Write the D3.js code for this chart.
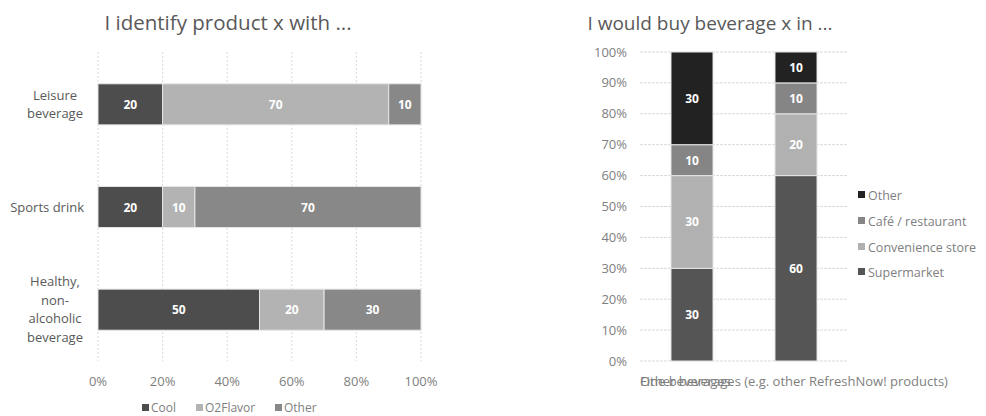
<!DOCTYPE html>
<html><head><meta charset="utf-8">
<script src="https://cdn.jsdelivr.net/npm/d3@7"></script>
<style>body{margin:0;background:#fff}svg{display:block;font-family:"Open Sans","Liberation Sans",sans-serif}</style>
</head><body><svg id="c" width="986" height="416"></svg>
<script>
// Left chart data
const leftCategories = ["Leisure\nbeverage", "Sports drink", "Healthy,\nnon-\nalcoholic\nbeverage"];
const leftSeries = ["Cool", "O2Flavor", "Other"];
const leftCool = [20, 20, 50];
const leftO2Flavor = [70, 10, 20];
const leftOther = [10, 70, 30];
const leftTicks = [0, 20, 40, 60, 80, 100];
const leftColors = ["#4d4d4d", "#b3b3b3", "#888888"];

// Right chart data
const rightCategories = ["Fine beverages", "Other beverages (e.g. other RefreshNow! products)"];
const rightSeries = ["Supermarket", "Convenience store", "Café / restaurant", "Other"];
const rightSupermarket = [30, 60];
const rightConvenience = [30, 20];
const rightCafe = [10, 10];
const rightOther = [30, 10];
const rightTicks = [0, 10, 20, 30, 40, 50, 60, 70, 80, 90, 100];
const rightColors = ["#555555", "#b1b1b1", "#858585", "#222222"];

const svg = d3.select("#c");
const textCol = "#595959", tickCol = "#808080", gridCol = "#d9d9d9";

// ---------- Left chart ----------
const L = svg.append("g");
L.append("text").attr("x", 228).attr("y", 30).attr("text-anchor", "middle")
  .attr("font-size", 20.5).attr("fill", textCol).text("I identify product x with ...");
const x = d3.scaleLinear().domain([0, 100]).range([98, 421]);
const yb = d3.scaleBand().domain(leftCategories).range([53, 361]).paddingInner(0.6).paddingOuter(0.3);

L.append("g").selectAll("line").data(leftTicks).join("line")
  .attr("x1", d => x(d)).attr("x2", d => x(d)).attr("y1", 52).attr("y2", 361)
  .attr("stroke", gridCol).attr("stroke-dasharray", "2,2");

const leftVals = [leftCool, leftO2Flavor, leftOther];
const leftRows = leftCategories.map((c, i) => {
  const o = {cat: c};
  leftSeries.forEach((s, j) => o[s] = leftVals[j][i]);
  return o;
});
const lStack = d3.stack().keys(leftSeries)(leftRows);
lStack.forEach((layer, j) => {
  const g = L.append("g");
  g.selectAll("rect").data(layer).join("rect")
    .attr("x", d => x(d[0])).attr("width", d => x(d[1]) - x(d[0]))
    .attr("y", d => yb(d.data.cat)).attr("height", yb.bandwidth())
    .attr("fill", leftColors[j]).attr("stroke", "#e6e6e6").attr("stroke-width", 1);
  g.selectAll("text").data(layer).join("text")
    .attr("x", d => (x(d[0]) + x(d[1])) / 2).attr("y", d => yb(d.data.cat) + yb.bandwidth() / 2 + 4.5)
    .attr("text-anchor", "middle").attr("font-size", 12).attr("font-weight", "bold").attr("fill", "#fff")
    .text(d => d[1] - d[0]);
});

// category labels
leftCategories.forEach(c => {
  const lines = c.split("\n");
  const cy = yb(c) + yb.bandwidth() / 2;
  const lh = 18.5;
  const t = L.append("text").attr("font-size", 13).attr("fill", textCol)
    .attr("text-anchor", lines.length === 1 ? "end" : "middle");
  lines.forEach((ln, k) => {
    t.append("tspan").attr("x", lines.length === 1 ? 84 : 55)
      .attr("y", cy + 4.5 + (k - (lines.length - 1) / 2) * lh).text(ln);
  });
});

L.append("g").selectAll("text").data(leftTicks).join("text")
  .attr("x", d => x(d)).attr("y", 386).attr("text-anchor", "middle")
  .attr("font-size", 13).attr("fill", tickCol).text(d => d + "%");

// legend
const leftLegX = [142, 196, 275];
leftSeries.forEach((s, j) => {
  L.append("rect").attr("x", leftLegX[j]).attr("y", 404).attr("width", 7).attr("height", 7).attr("fill", leftColors[j]);
  L.append("text").attr("x", leftLegX[j] + 9).attr("y", 411.5).attr("font-size", 12).attr("fill", tickCol).text(s);
});

// ---------- Right chart ----------
const R = svg.append("g");
R.append("text").attr("x", 710).attr("y", 30).attr("text-anchor", "middle")
  .attr("font-size", 19).attr("fill", textCol).text("I would buy beverage x in ...");
const y = d3.scaleLinear().domain([0, 100]).range([361, 52]);
const xb = d3.scaleBand().domain(rightCategories).range([640, 848]).paddingInner(0.596).paddingOuter(0.298);

R.append("g").selectAll("line").data(rightTicks).join("line")
  .attr("x1", 640).attr("x2", 848).attr("y1", d => y(d)).attr("y2", d => y(d))
  .attr("stroke", gridCol).attr("stroke-dasharray", "3,1");
R.append("g").selectAll("text").data(rightTicks).join("text")
  .attr("x", 627).attr("y", d => y(d) + 4.5).attr("text-anchor", "end")
  .attr("font-size", 13).attr("fill", tickCol).text(d => d + "%");

const rightVals = [rightSupermarket, rightConvenience, rightCafe, rightOther];
const rightRows = rightCategories.map((c, i) => {
  const o = {cat: c};
  rightSeries.forEach((s, j) => o[s] = rightVals[j][i]);
  return o;
});
const rStack = d3.stack().keys(rightSeries)(rightRows);
rStack.forEach((layer, j) => {
  const g = R.append("g");
  g.selectAll("rect").data(layer).join("rect")
    .attr("x", d => xb(d.data.cat)).attr("width", xb.bandwidth())
    .attr("y", d => y(d[1])).attr("height", d => y(d[0]) - y(d[1]))
    .attr("fill", rightColors[j]).attr("stroke", "#e6e6e6").attr("stroke-width", 1);
  g.selectAll("text").data(layer).join("text")
    .attr("x", d => xb(d.data.cat) + xb.bandwidth() / 2).attr("y", d => (y(d[0]) + y(d[1])) / 2 + 4.5)
    .attr("text-anchor", "middle").attr("font-size", 12).attr("font-weight", "bold").attr("fill", "#fff")
    .text(d => d[1] - d[0]);
});

// overlapping category labels (as in reference)
R.append("g").selectAll("text").data(rightCategories).join("text")
  .attr("x", 640).attr("y", 386).attr("font-size", 13).attr("fill", tickCol).text(d => d);

// legend (reverse order)
const rightLegY = [272, 247, 221, 195];
rightSeries.forEach((s, j) => {
  R.append("rect").attr("x", 858).attr("y", rightLegY[j] - 4).attr("width", 7).attr("height", 7).attr("fill", rightColors[j]);
  R.append("text").attr("x", 868).attr("y", rightLegY[j] + 4.5).attr("font-size", 12.5).attr("fill", tickCol).text(s);
});
</script></body></html>
